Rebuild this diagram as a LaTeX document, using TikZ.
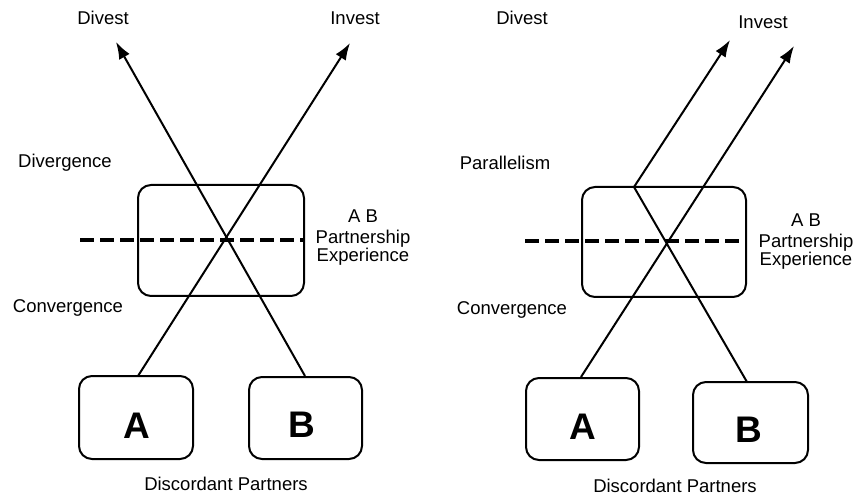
\documentclass[tikz,border=0pt]{standalone}
\usepackage{fontspec}
\setmainfont{Liberation Sans}
\usetikzlibrary{arrows.meta}
\begin{document}
\begin{tikzpicture}[x=1pt,y=-1pt,
  lbl/.style={font=\fontsize{18.5}{20}\selectfont, inner sep=0pt, align=center},
  big/.style={draw, line width=2pt, rounded corners=13pt, inner sep=0pt},
  letter/.style={font=\fontsize{37}{39}\selectfont\bfseries},
  arr/.style={line width=2pt, -{Latex[length=17pt,width=12pt]}},
  dashline/.style={line width=4.5pt, dash pattern=on 14pt off 6pt}
]
\useasboundingbox (0,0) rectangle (863,497);

% ---------- left panel ----------
\node[big, minimum width=166pt, minimum height=111pt] (M1) at (221,240.5) {};
\node[big, minimum width=114pt, minimum height=83pt] (A1) at (136,417.5) {};
\node[big, minimum width=113pt, minimum height=82pt] (B1) at (305.5,418) {};
\node[letter] (a1) at (137,426) {A};
\node[letter] (b1) at (302,425) {B};

\coordinate (A1t) at (138,376);
\coordinate (B1t) at (305,376);
\coordinate (inv1) at (350,43);
\coordinate (div1) at (116,42);
\coordinate (d1s) at (80,240);
\coordinate (d1e) at (M1.east |- d1s);

\draw[dashline] (d1s) -- (d1e);
\draw[arr] (A1t) -- (inv1);
\draw[arr] (B1t) -- (div1);

\node[lbl] (divL) at (103,18) {Divest};
\node[lbl] (invL) at (355,18) {Invest};
\node[lbl] (dvg) at (65,163) {Divergence};
\node[lbl] (cvg1) at (68,308) {Convergence};
\node[lbl] (ab1) at (363,238) {A B\\[1pt]Partnership\\[-2pt]Experience};
\node[lbl] (dp1) at (226,484) {Discordant Partners};

% ---------- right panel ----------
\node[big, minimum width=164pt, minimum height=110pt] (M2) at (664,242) {};
\node[big, minimum width=113pt, minimum height=82pt] (A2) at (582.5,419) {};
\node[big, minimum width=115pt, minimum height=81pt] (B2) at (750.5,422.5) {};
\node[letter] (a2) at (583,427) {A};
\node[letter] (b2) at (749,430) {B};

\coordinate (A2t) at (581,377);
\coordinate (B2t) at (747,382);
\coordinate (k2) at (634,187);
\coordinate (inv2a) at (730,40);
\coordinate (inv2b) at (794,46);
\coordinate (d2s) at (525,241);
\coordinate (d2e) at (M2.east |- d2s);

\draw[dashline] (d2s) -- (d2e);
\draw[arr] (B2t) -- (k2) -- (inv2a);
\draw[arr] (A2t) -- (inv2b);

\node[lbl] (divR) at (522,18) {Divest};
\node[lbl] (invR) at (763,22) {Invest};
\node[lbl] (par) at (505,163) {Parallelism};
\node[lbl] (cvg2) at (512,310) {Convergence};
\node[lbl] (ab2) at (806,242) {A B\\[1pt]Partnership\\[-2pt]Experience};
\node[lbl] (dp2) at (675,486) {Discordant Partners};
\end{tikzpicture}
\end{document}
